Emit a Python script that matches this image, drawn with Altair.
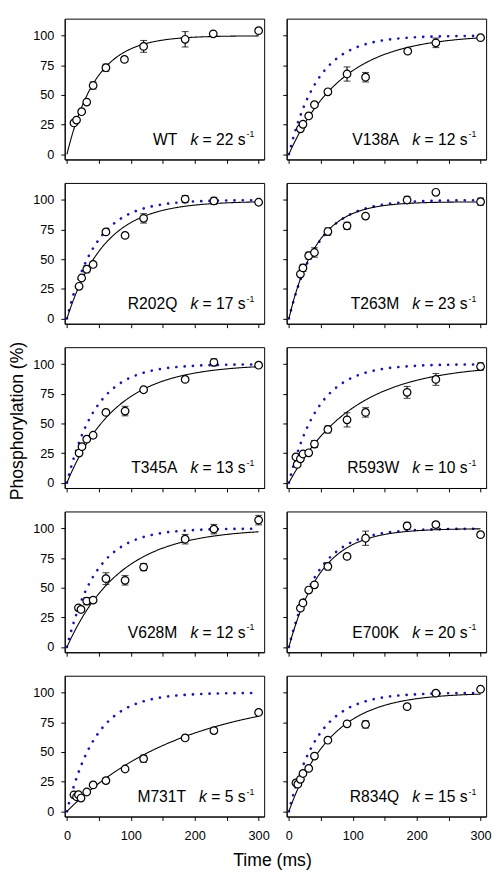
import altair as alt
import pandas as pd

FONT = "Liberation Sans"

# ---- panel descriptors ----
names = ["WT", "V138A", "R202Q", "T263M", "T345A", "R593W", "V628M", "E700K", "M731T", "R834Q"]
k_label = [22, 12, 17, 23, 13, 10, 12, 20, 5, 15]
# single-exponential fit parameters: k (s^-1) and amplitude (%)
k_fit = [22, 12, 17, 23, 13, 10, 12, 20, 5.4, 15]
amp_fit = [100, 101, 99, 98.5, 100, 100, 100, 100, 100, 100]
WT_K = 22
WT_AMP = 100

# ---- measured points: time (ms), phosphorylation (%), error (%) ----
t_WT = [11, 15, 23, 31, 41, 61, 90, 120, 185, 229, 300]
y_WT = [26.4, 28.8, 35.9, 44, 58, 73, 80, 91, 97, 101.6, 104.3]
e_WT = [0, 0, 0, 0, 3, 3, 0, 5, 6.5, 0, 0]

t_V138A = [18, 22, 31, 40, 61, 91, 120, 186, 230, 300]
y_V138A = [21.5, 25.3, 32.3, 41.8, 52.7, 67.7, 65, 87, 94, 98.4]
e_V138A = [0, 0, 0, 0, 2, 6, 4, 0, 4, 0]

t_R202Q = [19, 23, 31, 41, 61, 91, 120, 185, 230, 300]
y_R202Q = [27.2, 34.2, 41.6, 45.6, 73.1, 70.1, 84.5, 100.8, 99.2, 98.1]
e_R202Q = [0, 0, 3, 0, 0, 0, 4, 3, 3, 0]

t_T263M = [18, 22, 31, 40, 61, 91, 120, 185, 230, 300]
y_T263M = [37.5, 42.7, 53, 55.7, 73.4, 78.2, 86.4, 100, 106.5, 98.6]
e_T263M = [0, 3, 3, 4, 3, 3, 0, 3, 0, 3]

t_T345A = [19, 23.5, 31, 41, 61, 91, 120, 185, 230, 300]
y_T345A = [25.1, 30.5, 36.8, 40.1, 59.4, 60.5, 78.5, 87.2, 101.6, 99.2]
e_T345A = [0, 0, 0, 0, 0, 4, 2, 0, 3, 0]

t_R593W = [11, 13, 18, 22, 31, 40, 61, 91, 120, 185, 230, 300]
y_R593W = [21.8, 15.5, 20.2, 24.3, 25.3, 32.7, 45, 53.1, 59.4, 76.3, 87.2, 98.1]
e_R593W = [0, 0, 0, 0, 0, 3, 3, 6, 4, 5, 5, 3]

t_V628M = [18, 22, 31, 41, 61, 91, 120, 185, 230, 300]
y_V628M = [33.1, 31.7, 38.8, 39.6, 57.7, 56.3, 67.5, 91, 99.5, 107.1]
e_V628M = [0, 0, 3, 0, 5, 4, 3, 4, 4, 4]

t_E700K = [18, 22, 31, 40, 61, 91, 120, 185, 230, 300]
y_E700K = [32.8, 37.2, 48.1, 52.5, 68, 76.5, 91.8, 102.2, 103.3, 94.8]
e_E700K = [0, 0, 0, 0, 3, 0, 6, 3, 2, 0]

t_M731T = [11, 15, 18, 22, 31, 41, 61, 91, 120, 185, 230, 300]
y_M731T = [13.9, 12.3, 14, 11.2, 16.3, 22.3, 25.9, 35.7, 44.4, 61.9, 68.1, 83.4]
e_M731T = [0, 0, 0, 0, 0, 0, 2, 0, 3, 0, 2, 0]

t_R834Q = [11, 14, 18, 22, 31, 40, 61, 91, 120, 185, 230, 300]
y_R834Q = [24, 22.9, 27, 31.9, 36.2, 46.6, 60, 73.8, 73.3, 88.3, 99.7, 103]
e_R834Q = [0, 0, 0, 0, 0, 0, 0, 0, 3, 0, 2, 0]

x_ticks = [0, 50, 100, 150, 200, 250, 300]
y_ticks = [0, 25, 50, 75, 100]

series = {
    "WT": (t_WT, y_WT, e_WT),
    "V138A": (t_V138A, y_V138A, e_V138A),
    "R202Q": (t_R202Q, y_R202Q, e_R202Q),
    "T263M": (t_T263M, y_T263M, e_T263M),
    "T345A": (t_T345A, y_T345A, e_T345A),
    "R593W": (t_R593W, y_R593W, e_R593W),
    "V628M": (t_V628M, y_V628M, e_V628M),
    "E700K": (t_E700K, y_E700K, e_E700K),
    "M731T": (t_M731T, y_M731T, e_M731T),
    "R834Q": (t_R834Q, y_R834Q, e_R834Q),
}

# ---- layout ----
W, H = 204, 144
XD = [-3.5, 308.7]
YD = [-4.4, 114.4]
FS = 16  # label font size

# Arial/Liberation Sans advance widths (em)
ADV = {" ": 0.278, "=": 0.584, "s": 0.5, "k": 0.5}
for d in "0123456789":
    ADV[d] = 0.556


def text_w(s, size):
    return sum(ADV.get(c, 0.556) for c in s) * size


S_END = 185      # right end of "s"
BASE_Y = H - 15  # label baseline


def panel(i):
    name = names[i]
    row, col = divmod(i, 2)
    is_left = col == 0
    is_bottom = row == 4
    t, y, e = series[name]
    df = pd.DataFrame({"t": t, "y": y, "e": e})
    df["lo"] = df["y"] - df["e"]
    df["hi"] = df["y"] + df["e"]

    xkw = dict(values=x_ticks, labels=is_bottom, title="",
               labelExpr="datum.value % 100 === 0 ? datum.label : ''")
    if is_bottom and is_left:
        xkw.update(title="Time (ms)", titleX=212, titleY=50,
                   titleBaseline="alphabetic", titleAlign="center")
    ykw = dict(values=y_ticks, labels=is_left, title="")
    if is_left and row == 2:
        ykw.update(title="Phosphorylation (%)", titleX=-48, titleY=H / 2 + 3,
                   titleAngle=270, titleBaseline="middle", titleAlign="center")
    xaxis = alt.Axis(**xkw)
    yaxis = alt.Axis(**ykw)
    xs = alt.Scale(domain=XD, nice=False, zero=False)
    ys = alt.Scale(domain=YD, nice=False, zero=False)

    def X(f):
        return alt.X(f, type="quantitative", scale=xs, axis=xaxis)

    def Y(f):
        return alt.Y(f, type="quantitative", scale=ys, axis=yaxis)

    layers = []
    if name != "WT":
        wt = alt.Chart(alt.sequence(0, 300.5, 1, as_="t")).transform_calculate(
            y=f"{WT_AMP}*(1-exp(-{WT_K}*datum.t/1000))"
        ).mark_line(color="#1414C8", strokeWidth=2.7, strokeDash=[0.1, 8.4],
                    strokeCap="round").encode(x=X("t"), y=Y("y"))
        layers.append(wt)
    fit = alt.Chart(alt.sequence(0, 300.5, 1, as_="t")).transform_calculate(
        y=f"{amp_fit[i]}*(1-exp(-{k_fit[i]}*datum.t/1000))"
    ).mark_line(color="black", strokeWidth=1.1).encode(x=X("t"), y=Y("y"))
    layers.append(fit)

    base = alt.Chart(df)
    eb = base.transform_filter("datum.e > 0")
    layers.append(eb.mark_rule(color="black", strokeWidth=1.1).encode(
        x=X("t"), y=Y("lo"), y2="hi:Q"))
    layers.append(eb.mark_tick(orient="horizontal", color="black", size=7,
                               thickness=1.1).encode(x=X("t"), y=Y("hi")))
    layers.append(eb.mark_tick(orient="horizontal", color="black", size=7,
                               thickness=1.1).encode(x=X("t"), y=Y("lo")))
    layers.append(base.mark_point(shape="circle", fill="white", fillOpacity=1,
                                  stroke="black", strokeWidth=1.25, opacity=1,
                                  size=60).encode(x=X("t"), y=Y("y")))

    eq = f"= {k_label[i]} s"
    eq_w = text_w(eq, FS)
    k_right = S_END - eq_w - text_w(" ", FS)
    name_right = k_right - text_w("k", FS) - text_w("   ", FS)
    lab = pd.DataFrame({"name": [name], "k": ["k"], "eq": [eq], "sup": ["-1"]})
    lt = alt.Chart(lab)
    common = dict(font=FONT, color="black", baseline="alphabetic")
    layers.append(lt.mark_text(align="right", fontSize=FS, **common).encode(
        x=alt.value(name_right), y=alt.value(BASE_Y), text="name:N"))
    layers.append(lt.mark_text(align="right", fontSize=FS, fontStyle="italic", **common).encode(
        x=alt.value(k_right), y=alt.value(BASE_Y), text="k:N"))
    layers.append(lt.mark_text(align="right", fontSize=FS, **common).encode(
        x=alt.value(S_END), y=alt.value(BASE_Y), text="eq:N"))
    layers.append(lt.mark_text(align="left", fontSize=9, **common).encode(
        x=alt.value(S_END + 1), y=alt.value(BASE_Y - 7.5), text="sup:N"))

    return alt.layer(*layers).properties(width=W, height=H)


panels = [panel(i) for i in range(len(names))]

chart = alt.concat(*panels, columns=2, spacing={"row": 24, "column": 23},
                   bounds="flush").properties(
    padding={"left": 0, "top": 0, "right": 0, "bottom": 0}
).configure(font=FONT).configure_view(
    stroke="black", strokeWidth=1
).configure_axis(
    grid=False, domainColor="black", domainWidth=1, tickColor="black",
    tickWidth=1, tickSize=4, labelColor="black", labelFont=FONT,
    labelFontSize=13, titleColor="black", titleFont=FONT, titleFontSize=18,
    titleFontWeight="normal", labelFlush=False, labelOverlap=False
).configure_axisX(labelPadding=10).configure_axisY(labelPadding=7)

chart.save("out.html", embed_options={"renderer": "svg", "actions": False})
